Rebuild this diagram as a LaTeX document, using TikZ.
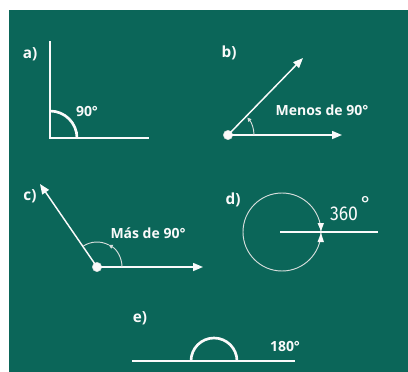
\documentclass[tikz,border=0pt]{standalone}
\usepackage{fontspec}
\setmainfont{Open Sans}
\newfontfamily\numfont{Fira Sans}
\usetikzlibrary{arrows.meta}
\definecolor{board}{RGB}{11,102,89}
\definecolor{chalk}{RGB}{250,250,250}
\definecolor{faint}{RGB}{215,222,220}
\begin{document}
\begin{tikzpicture}[x=0.75pt,y=-0.75pt,
  lbl/.style={text=chalk,font=\bfseries\fontsize{10.5}{12}\selectfont,inner sep=0pt},
  tag/.style={text=chalk,font=\bfseries\fontsize{11.5}{13}\selectfont,inner sep=0pt},
  thick line/.style={draw=chalk,line width=2.2pt},
  ray/.style={draw=chalk,line width=1.1pt,-{Triangle[length=7.5pt,width=6pt]}},
  thinarc/.style={draw=faint,line width=0.7pt},
  vertexdot/.style={circle,fill=chalk,draw=faint,line width=0.4pt,minimum size=7pt,inner sep=0pt}]
\useasboundingbox (0,0) rectangle (408,372);
\fill[white] (0,0) rectangle (408,372);
\fill[board] (9,10) rectangle (408,372);

% a)
\node[tag] (la) at (30,54) {a)};
\coordinate (aO) at (50,138);
\coordinate (aT) at (50,42);
\coordinate (aR) at (148,138);
\draw[thick line,line cap=rect] (aT) -- (aO) -- (aR);
\draw[draw=chalk,line width=2pt] (77,138) arc[start angle=0,end angle=-90,radius=27];
\node[lbl] (ta) at (87,111) {90°};

% b)
\node[tag] (lb) at (229,53) {b)};
\node[vertexdot] (bO) at (228,135) {};
\coordinate (bU) at (303,58);
\coordinate (bR) at (342,135);
\draw[ray] (bO.center) -- (bU);
\draw[ray] (bO.center) -- (bR);
\draw[thinarc,-{Triangle[length=3pt,width=3pt]}] (254,135) arc[start angle=0,end angle=-42,radius=26];
\node[lbl] (tb) at (322,110) {Menos de 90°};

% c)
\node[tag] (lc) at (30,196) {c)};
\node[vertexdot] (cO) at (97,267) {};
\coordinate (cU) at (40,184);
\coordinate (cR) at (203,267);
\draw[ray] (cO.center) -- (cU);
\draw[ray] (cO.center) -- (cR);
\draw[thinarc,-{Triangle[length=3pt,width=3pt]}] (122,267) arc[start angle=0,end angle=-62,radius=25];
\draw[thinarc] (97,267) ++(-62:25) arc[start angle=-62,end angle=-124,radius=25];
\node[lbl] (tc) at (148,233) {Más de 90°};

% d)
\node[tag] (ld) at (233,200) {d)};
\coordinate (dO) at (282,232);
\coordinate (dE) at (378,232);
\draw[draw=faint,line width=0.7pt] (dO) circle[radius=39];
\draw[draw=chalk,line width=1.6pt] (280,232) -- (dE);
\fill[chalk] (321,231) -- (317.5,223) -- (324,223) -- cycle;
\fill[chalk] (321,233) -- (317.5,242) -- (324,242) -- cycle;
\node[text=chalk,font=\numfont\fontsize{15}{17}\selectfont,inner sep=0pt,xscale=0.88] (td) at (344,214) {360};
\node[text=chalk,font=\numfont\fontsize{15}{17}\selectfont,inner sep=0pt] (tdeg) at (366,203) {°};

% e)
\node[tag] (le) at (140,318) {e)};
\coordinate (eL) at (132,361);
\coordinate (eR) at (295,361);
\draw[draw=chalk,line width=1.6pt] (eL) -- (eR);
\draw[draw=chalk,line width=2pt] (191,361) arc[start angle=180,end angle=360,radius=23];
\node[lbl] (te) at (285,346) {180°};
\end{tikzpicture}
\end{document}
